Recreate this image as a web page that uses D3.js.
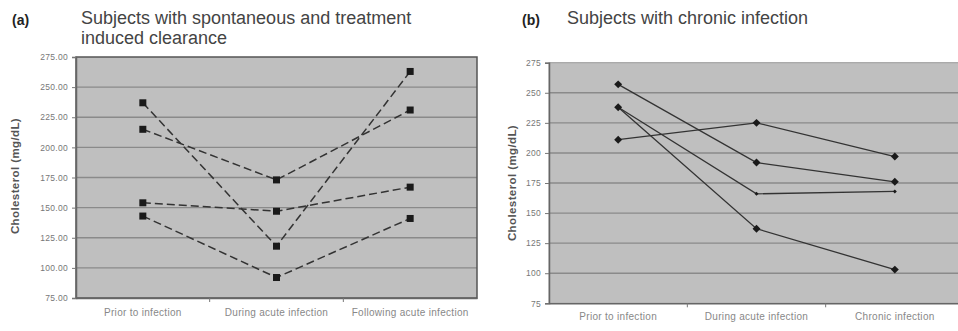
<!DOCTYPE html>
<html><head><meta charset="utf-8">
<script src="https://cdn.jsdelivr.net/npm/d3@7"></script>
<style>body{margin:0;background:#fff;} svg{display:block;font-family:"Liberation Sans",Arial,sans-serif;}</style>
</head><body>
<svg id="c" width="958" height="331"></svg>
<script>
// ---- data ----
const catsA = ["Prior to infection", "During acute infection", "Following acute infection"];
const catsB = ["Prior to infection", "During acute infection", "Chronic infection"];
const ticksA = [75, 100, 125, 150, 175, 200, 225, 250, 275];
const ticksB = [75, 100, 125, 150, 175, 200, 225, 250, 275];
const a1 = [237, 118, 263];
const a2 = [215, 173, 231];
const a3 = [154, 147, 167];
const a4 = [143, 92, 141];
const b1 = [257, 192, 176];
const b2 = [211, 225, 197];
const b3 = [238, 166, 168];
const b4 = [238, 137, 103];
const seriesA = [a1, a2, a3, a4];
const seriesB = [b1, b2, b3, b4];

const svg = d3.select("#c");

function panel(o) {
  const g = svg.append("g");
  const x = d3.scaleBand().domain(o.cats).range([o.x0, o.x1]);
  const y = d3.scaleLinear().domain([75, 275]).range([o.y1, o.y0]);
  g.append("rect").attr("x", o.x0).attr("y", o.y0).attr("width", o.x1 - o.x0).attr("height", o.y1 - o.y0)
    .attr("fill", "#bfbfbf");
  g.selectAll(".grid").data(o.ticks.filter(t => t > 75 && t < 275)).join("line")
    .attr("x1", o.x0).attr("x2", o.x1).attr("y1", d => y(d)).attr("y2", d => y(d))
    .attr("stroke", "#8a8a8a").attr("stroke-width", 1.4);
  g.append("rect").attr("x", o.x0).attr("y", o.y0).attr("width", o.x1 - o.x0).attr("height", o.y1 - o.y0)
    .attr("fill", "none").attr("stroke", o.border).attr("stroke-width", o.borderW);
  const ya = d3.axisLeft(y).tickValues(o.ticks).tickSize(4).tickFormat(o.fmt);
  const yg = g.append("g").attr("transform", `translate(${o.x0},0)`).call(ya);
  yg.select(".domain").attr("stroke", "#666").attr("stroke-width", 1.5);
  yg.selectAll(".tick line").attr("stroke", "#777");
  yg.selectAll("text").attr("fill", "#777").attr("font-size", 8.5).attr("letter-spacing", 0.3).attr("dx", -1);
  const xa = d3.axisBottom(x).tickSize(0);
  const xg = g.append("g").attr("transform", `translate(0,${o.y1})`).call(xa);
  xg.select(".domain").attr("stroke", "#666").attr("stroke-width", 1.5);
  xg.selectAll("text").attr("fill", "#888").attr("font-size", 10).attr("letter-spacing", 0.3).attr("dy", o.xdy);
  g.selectAll(".bt").data(o.cats.slice(1)).join("line")
    .attr("x1", d => x(d)).attr("x2", d => x(d)).attr("y1", o.y1).attr("y2", o.y1 + 4)
    .attr("stroke", "#777");
  g.append("text").attr("transform", `translate(${o.ytx},${o.ytc}) rotate(-90)`)
    .attr("text-anchor", "middle").attr("font-size", 11.5).attr("font-weight", "bold").attr("fill", "#555")
    .attr("letter-spacing", 0.4)
    .text("Cholesterol (mg/dL)");
  g.append("text").attr("x", o.lx).attr("y", 25).attr("font-size", 14).attr("font-weight", "bold").attr("fill", "#222").text(o.letter);
  o.title.forEach((t, i) => g.append("text").attr("x", o.tx).attr("y", 24 + i * 20).attr("font-size", 18).attr("fill", "#444").text(t));
  return {g, x, y};
}

const A = panel({cats: catsA, ticks: ticksA, x0: 76, x1: 477, y0: 57, y1: 298, border: "#555", borderW: 1.5,
  fmt: d3.format(".2f"), xdy: 15, ytx: 19, ytc: 176, lx: 12, letter: "(a)", tx: 81,
  title: ["Subjects with spontaneous and treatment", "induced  clearance"]});
const B = panel({cats: catsB, ticks: ticksB, x0: 549, x1: 964, y0: 62.7, y1: 303.3, border: "#999", borderW: 1,
  fmt: d3.format("d"), xdy: 14, ytx: 516, ytc: 183, lx: 522, letter: "(b)", tx: 567,
  title: ["Subjects with chronic infection"]});

const lineA = d3.line().x((d, i) => A.x(catsA[i]) + A.x.bandwidth() / 2).y(d => A.y(d));
seriesA.forEach(s => {
  A.g.append("path").datum(s).attr("d", lineA).attr("fill", "none").attr("stroke", "#333")
    .attr("stroke-width", 1.5).attr("stroke-dasharray", "8,4");
  A.g.selectAll(null).data(s).join("rect")
    .attr("x", (d, i) => A.x(catsA[i]) + A.x.bandwidth() / 2 - 3.5).attr("y", d => A.y(d) - 3.5)
    .attr("width", 7).attr("height", 7).attr("fill", "#1a1a1a");
});

const lineB = d3.line().x((d, i) => B.x(catsB[i]) + B.x.bandwidth() / 2).y(d => B.y(d));
const diamond = d3.symbol().type(d3.symbolDiamond2);
seriesB.forEach((s, k) => {
  B.g.append("path").datum(s).attr("d", lineB).attr("fill", "none").attr("stroke", "#333")
    .attr("stroke-width", 1.3);
  B.g.selectAll(null).data(s).join("path")
    .attr("transform", (d, i) => `translate(${B.x(catsB[i]) + B.x.bandwidth() / 2},${B.y(d)})`)
    .attr("d", diamond.size(k === 2 ? 10 : 40)).attr("fill", "#1a1a1a");
});
</script>
</body></html>
